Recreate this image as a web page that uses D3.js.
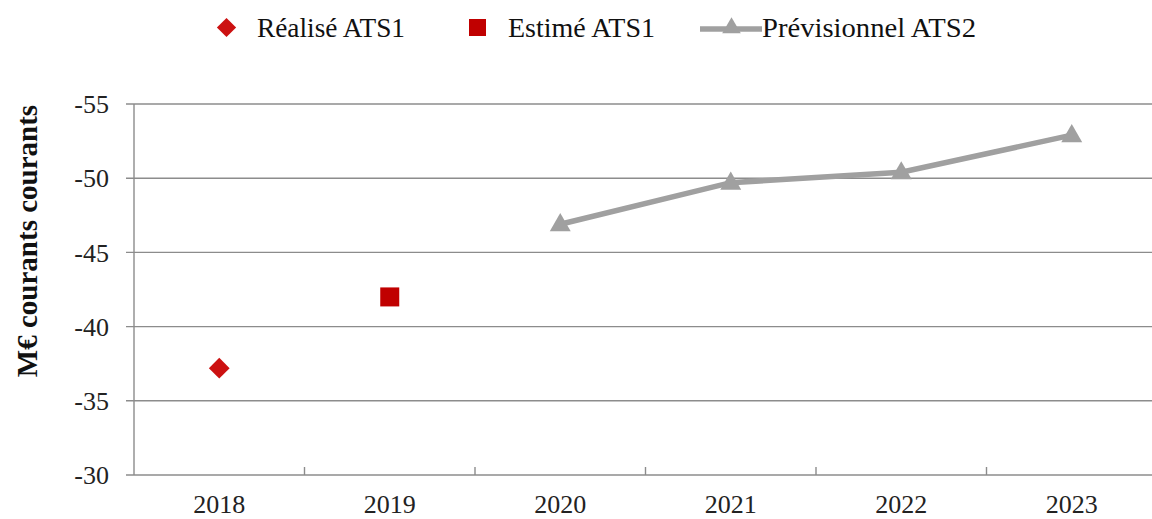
<!DOCTYPE html>
<html><head><meta charset="utf-8">
<script src="https://cdn.jsdelivr.net/npm/d3@7"></script>
<style>body{margin:0;background:#fff}svg{display:block}
svg text{font-family:"Liberation Serif","Times New Roman","DejaVu Serif",serif;}</style>
</head><body>
<svg id="c" width="1152" height="519"></svg>
<script>
const categories = ["2018","2019","2020","2021","2022","2023"];
const realise = [{year:"2018", value:-37.2}];
const estime = [{year:"2019", value:-42.0}];
const previsionnel = [
  {year:"2020", value:-46.9},
  {year:"2021", value:-49.7},
  {year:"2022", value:-50.4},
  {year:"2023", value:-52.9}
];
const yTicks = [-55,-50,-45,-40,-35,-30];
const yLabel = "M€ courants courants";
const legendLabels = ["Réalisé ATS1","Estimé ATS1","Prévisionnel ATS2"];

(function(){
const svg = d3.select("#c");
const pL = 134, pR = 1157, pT = 104, pB = 475;
const x = d3.scaleBand().domain(categories).range([pL, pR]);
const y = d3.scaleLinear().domain([-30,-55]).range([pB, pT]);
const axisColor = "#8c8c8c";

svg.append("g").selectAll("line").data(yTicks).join("line")
  .attr("x1", pL-8).attr("x2", pR)
  .attr("y1", d=>y(d)).attr("y2", d=>y(d))
  .attr("stroke", axisColor).attr("stroke-width", 1.4);

svg.append("line").attr("x1", pL).attr("x2", pL).attr("y1", pT).attr("y2", pB)
  .attr("stroke", axisColor).attr("stroke-width", 1.4);

svg.append("g").selectAll("text").data(yTicks).join("text")
  .attr("x", 109).attr("y", d=>y(d)).attr("dy","0.35em")
  .attr("text-anchor","end").attr("font-size",26)
  .attr("fill","#222").text(d=>d);

const bounds = categories.map(c=>x(c)).concat([pR]);
svg.append("g").selectAll("line").data(bounds.slice(1)).join("line")
  .attr("x1", d=>d).attr("x2", d=>d).attr("y1", pB).attr("y2", pB-8)
  .attr("stroke", axisColor).attr("stroke-width", 1.4);

svg.append("g").selectAll("text").data(categories).join("text")
  .attr("x", d=>x(d)+x.bandwidth()/2).attr("y", 513)
  .attr("text-anchor","middle").attr("font-size",26)
  .attr("fill","#222").text(d=>d);

svg.append("text").attr("transform","translate(37,241) rotate(-90)")
  .attr("text-anchor","middle").attr("font-size",29)
  .attr("font-weight","bold").attr("fill","#111").text(yLabel);

const cx = d=>x(d.year)+x.bandwidth()/2;
const tri = d3.symbol().type(d3.symbolTriangle).size(190);
const dia = d3.symbol().type(d3.symbolSquare).size(215);

svg.append("path").datum(previsionnel)
  .attr("d", d3.line().x(cx).y(d=>y(d.value)))
  .attr("fill","none").attr("stroke","#a0a0a0").attr("stroke-width",5.5);
svg.append("g").selectAll("path").data(previsionnel).join("path")
  .attr("d", tri).attr("transform", d=>`translate(${cx(d)},${y(d.value)+1})`)
  .attr("fill","#a0a0a0");

svg.append("g").selectAll("path").data(realise).join("path")
  .attr("d", dia).attr("transform", d=>`translate(${cx(d)},${y(d.value)}) rotate(45)`)
  .attr("fill","#cc1111");
svg.append("g").selectAll("rect").data(estime).join("rect")
  .attr("x", d=>cx(d)-9.5).attr("y", d=>y(d.value)-9.5).attr("width",19).attr("height",19)
  .attr("fill","#c00000");

const lg = svg.append("g");
lg.append("path").attr("d", d3.symbol().type(d3.symbolSquare).size(185))
  .attr("transform",`translate(226.5,27.5) rotate(45)`).attr("fill","#cc1111");
lg.append("rect").attr("x",469).attr("y",19).attr("width",17).attr("height",17).attr("fill","#c00000");
lg.append("line").attr("x1",700).attr("x2",762).attr("y1",29).attr("y2",29)
  .attr("stroke","#a0a0a0").attr("stroke-width",5.5);
lg.append("path").attr("d", d3.symbol().type(d3.symbolTriangle).size(150))
  .attr("transform",`translate(731.5,28)`).attr("fill","#a0a0a0");
const lx = [257, 508, 762];
const lw = [148, 147, 214];
lg.selectAll("text").data(legendLabels).join("text")
  .attr("x",(d,i)=>lx[i]).attr("y",37)
  .attr("textLength",(d,i)=>lw[i]).attr("lengthAdjust","spacingAndGlyphs")
  .attr("font-size",27).attr("fill","#111").text(d=>d);
})();
</script>
</body></html>
